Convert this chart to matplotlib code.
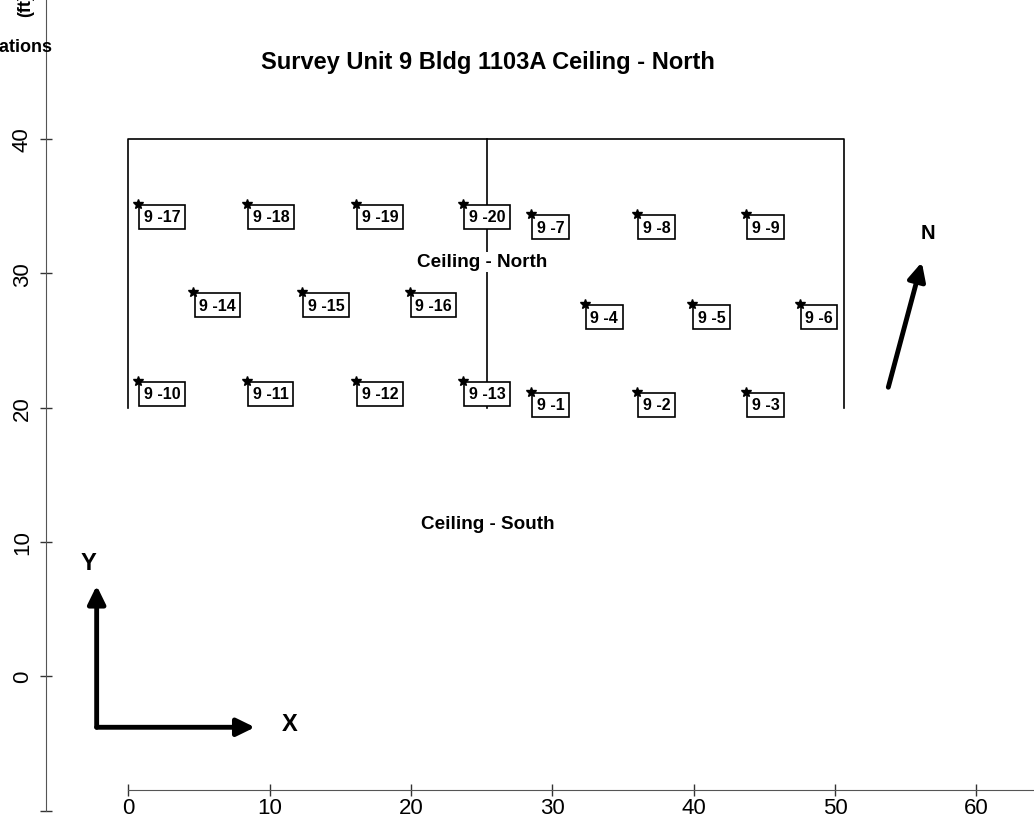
"""Survey unit 9 ceiling map: sample locations with labels."""
import matplotlib
matplotlib.use("Agg")
import matplotlib.pyplot as plt

plt.rcParams["font.family"] = ["Liberation Sans", "DejaVu Sans"]

# sample locations (ft)
labels = ["9 -%d" % i for i in range(1, 21)]
loc_x = [28.5, 36.0, 43.7, 32.3, 39.9, 47.5, 28.5, 36.0, 43.7,
         0.7, 8.4, 16.1, 23.7, 4.6, 12.3, 19.9, 0.7, 8.4, 16.1, 23.7]
loc_y = [21.2, 21.2, 21.2, 27.7, 27.7, 27.7, 34.4, 34.4, 34.4,
         22.0, 22.0, 22.0, 22.0, 28.6, 28.6, 28.6, 35.2, 35.2, 35.2, 35.2]

# room outline (open at the south side) and divider
outline_x = [0, 0, 50.6, 50.6]
outline_y = [20, 40, 40, 20]
divider_x = [25.35, 25.35]
divider_y = [20, 40]

x_ticks = [0, 10, 20, 30, 40, 50, 60]
y_ticks = [-10, 0, 10, 20, 30, 40]
y_ticklabels = ["", "0", "10", "20", "30", "40"]

fig = plt.figure(figsize=(10.34, 8.2), dpi=100)
ax = fig.add_axes([0, 0, 1, 1])
ax.set_xlim(-9.09, 64.08)
ax.set_ylim(-10.63, 50.43)

ax.plot(outline_x, outline_y, color="black", lw=1.2, zorder=2)
ax.plot(divider_x, divider_y, color="black", lw=1.2, zorder=2)

ax.plot(loc_x, loc_y, "*", color="black", markersize=7, zorder=5)
for lab, x, y in zip(labels, loc_x, loc_y):
    ax.annotate(lab, (x, y), xytext=(4, -4), textcoords="offset points",
                ha="left", va="top", fontsize=11.5, fontweight="bold",
                bbox=dict(boxstyle="square,pad=0.28", fc="white", ec="black", lw=1.2),
                zorder=4)

ax.text(25.05, 30.85, "Ceiling - North", ha="center", va="center", fontsize=13.6,
        fontweight="bold", bbox=dict(boxstyle="square,pad=0.1", fc="white", ec="none"),
        zorder=3)
ax.text(25.45, 11.4, "Ceiling - South", ha="center", va="center", fontsize=13.6,
        fontweight="bold")
ax.text(25.42, 45.8, "Survey Unit 9 Bldg 1103A Ceiling - North", ha="center",
        va="center", fontsize=17, fontweight="bold")

# orientation arrows
arrow = dict(arrowstyle="-|>,head_length=0.45,head_width=0.22", lw=3.5, color="black",
             mutation_scale=24, shrinkA=0, shrinkB=0)
ax.annotate("", xy=(-2.25, 6.75), xytext=(-2.25, -3.8), arrowprops=arrow)
ax.annotate("", xy=(8.95, -3.8), xytext=(-2.25, -3.8), arrowprops=arrow)
ax.text(-2.85, 8.5, "Y", ha="center", va="center", fontsize=17, fontweight="bold")
ax.text(11.43, -3.55, "X", ha="center", va="center", fontsize=17, fontweight="bold")
ax.annotate("", xy=(56.14, 30.83), xytext=(53.77, 21.52), arrowprops=arrow)
ax.text(56.6, 33.06, "N", ha="center", va="center", fontsize=14.5, fontweight="bold")

ax.text(-5.34, 46.56, "Locations", ha="right", va="baseline", fontsize=13,
        fontweight="bold")
ax.text(-7.3, 49.15, "(ft)", ha="center", va="bottom", rotation=90, fontsize=13,
        fontweight="bold")

# axes drawn at their data positions
for s in ["top", "right"]:
    ax.spines[s].set_visible(False)
ax.spines["left"].set_position(("data", -5.85))
ax.spines["bottom"].set_position(("data", -8.47))
ax.spines["left"].set_bounds(-10, 50.43)
ax.spines["bottom"].set_bounds(0, 64.08)
ax.spines["left"].set_color("#555555")
ax.spines["bottom"].set_color("#555555")
ax.set_xticks(x_ticks)
ax.set_yticks(y_ticks)
ax.set_yticklabels(y_ticklabels, rotation=90, va="center")
ax.tick_params(direction="inout", length=8.5, width=1, color="#333333",
               labelsize=16, pad=0.5)
ax.tick_params(axis="y", pad=5)

fig.savefig("out.png", dpi=100)
print("wrote out.png")
